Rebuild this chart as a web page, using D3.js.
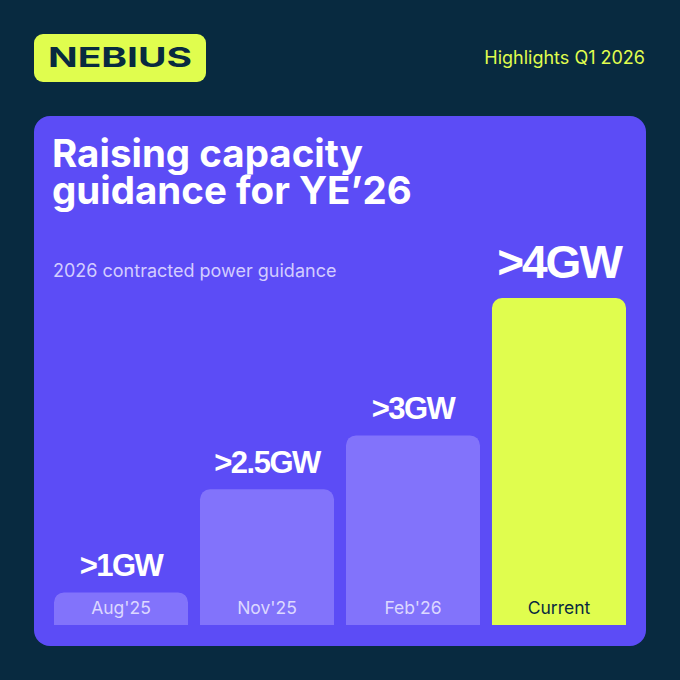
<!DOCTYPE html>
<html lang="en">
<head>
    <meta charset="utf-8">
    <script src="https://d3js.org/d3.v7.min.js"></script>
    <style>
        html, body { margin: 0; padding: 0; background: #082a40; }
        svg text { font-family: Inter, "Liberation Sans", sans-serif; }
    </style>
</head>
<body>
<script>
    // chart data
    const periods = ["Aug'25", "Nov'25", "Feb'26", "Current"];
    const guidanceGW = [1, 2.5, 3, 4];
    const valueLabels = [">1GW", ">2.5GW", ">3GW", ">4GW"];
    const title = ["Raising capacity", "guidance for YE\u201926"];
    const subtitle = "2026 contracted power guidance";

    const W = 680, H = 680;
    const navy = "#082a40", lime = "#e0fd4e", card = "#5c4cf6", pale = "#8273fb";

    const svg = d3.select("body").append("svg")
        .attr("width", W)
        .attr("height", H);

    svg.append("rect").attr("width", W).attr("height", H).attr("fill", navy);

    // logo
    svg.append("rect")
        .attr("x", 34).attr("y", 34).attr("width", 172).attr("height", 48)
        .attr("rx", 9).attr("fill", lime);
    svg.append("text")
        .attr("x", 48).attr("y", 67)
        .attr("textLength", 144).attr("lengthAdjust", "spacingAndGlyphs")
        .style("font-size", "27px").style("font-weight", 700)
        .attr("fill", navy)
        .text("NEBIUS");

    svg.append("text")
        .attr("x", 645).attr("y", 64)
        .attr("text-anchor", "end")
        .style("font-size", "18px").style("font-weight", 400)
        .attr("fill", lime)
        .text("Highlights Q1 2026");

    // card
    svg.append("rect")
        .attr("x", 34).attr("y", 116).attr("width", 612).attr("height", 530)
        .attr("rx", 16).attr("fill", card);

    svg.selectAll(".title").data(title).enter().append("text")
        .attr("class", "title")
        .attr("x", 52).attr("y", (d, i) => 167 + i * 37)
        .style("font-size", "38.5px").style("font-weight", 700)
        .attr("fill", "#ffffff")
        .text(d => d);

    svg.append("text")
        .attr("x", 53).attr("y", 277)
        .style("font-size", "18px")
        .attr("fill", "#d3cdff")
        .text(subtitle);

    // scales
    const baseY = 625;
    const x = d3.scaleBand()
        .domain(periods)
        .range([54, 626])
        .paddingInner(0.082)
        .paddingOuter(0);

    const y = d3.scalePow().exponent(2)
        .domain([0, 4])
        .range([baseY - 13, 298]);

    const r = 10;
    function topRounded(x0, y0, w, h) {
        const p = d3.path();
        p.moveTo(x0, y0 + h);
        p.lineTo(x0, y0 + r);
        p.arcTo(x0, y0, x0 + r, y0, r);
        p.lineTo(x0 + w - r, y0);
        p.arcTo(x0 + w, y0, x0 + w, y0 + r, r);
        p.lineTo(x0 + w, y0 + h);
        p.closePath();
        return p.toString();
    }

    const rows = periods.map((p, i) => ({ period: p, v: guidanceGW[i], label: valueLabels[i], last: i === periods.length - 1 }));

    const g = svg.selectAll(".bar").data(rows).enter().append("g").attr("class", "bar");

    g.append("path")
        .attr("d", d => topRounded(x(d.period), y(d.v), x.bandwidth(), baseY - y(d.v)))
        .attr("fill", d => d.last ? lime : pale);

    g.append("text")
        .attr("x", d => x(d.period) + x.bandwidth() / 2)
        .attr("y", baseY - 11)
        .attr("text-anchor", "middle")
        .style("font-size", "17.5px")
        .attr("fill", d => d.last ? navy : "#dcd8ff")
        .text(d => d.period);

    g.append("text")
        .attr("x", d => x(d.period) + x.bandwidth() / 2)
        .attr("y", d => y(d.v) - (d.last ? 20 : 16))
        .attr("text-anchor", "middle")
        .style("font-family", "'Liberation Sans', Arial, sans-serif")
        .style("font-size", d => d.last ? "46px" : "31px")
        .style("font-weight", 700)
        .style("letter-spacing", d => d.last ? "-2px" : "-1.5px")
        .attr("fill", "#ffffff")
        .text(d => d.label);
</script>
</body>
</html>
